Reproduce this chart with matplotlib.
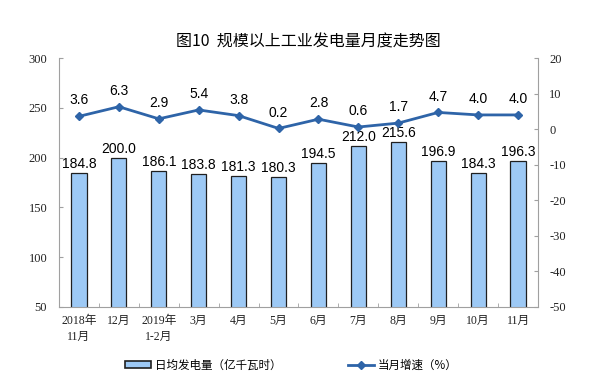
import matplotlib
matplotlib.use("Agg")
import matplotlib.pyplot as plt
from matplotlib.lines import Line2D
from matplotlib.patches import Patch

categories = ["2018年\n11月", "12月", "2019年\n1-2月", "3月", "4月", "5月", "6月", "7月", "8月", "9月", "10月", "11月"]
daily_output = [184.8, 200.0, 186.1, 183.8, 181.3, 180.3, 194.5, 212.0, 215.6, 196.9, 184.3, 196.3]
growth = [3.6, 6.3, 2.9, 5.4, 3.8, 0.2, 2.8, 0.6, 1.7, 4.7, 4.0, 4.0]
left_ticks = [50, 100, 150, 200, 250, 300]
right_ticks = [-50, -40, -30, -20, -10, 0, 10, 20]

cjk = ["Noto Sans CJK SC", "DejaVu Sans"]
serif_cjk = ["Liberation Serif", "Noto Sans CJK SC"]

fig = plt.figure(figsize=(6.04, 3.86), dpi=100)
ax = fig.add_axes([0.0977, 0.2047, 0.793, 0.645])
x = list(range(len(categories)))
bar_color = "#9DC9F5"
edge = "#1F1F1F"
line_color = "#2E64A8"
axis_gray = "#A0A0A0"

ax.bar(x, daily_output, width=0.38, color=bar_color, edgecolor=edge, linewidth=0.9, zorder=2)
ax.set_ylim(50, 300)
ax.set_xlim(-0.5, len(categories) - 0.5)
ax.set_yticks(left_ticks)
ax.set_yticklabels([str(t) for t in left_ticks], fontfamily="Liberation Serif", fontsize=9, color="#222222")
ax.set_xticks(x)
ax.set_xticklabels(categories, fontfamily=serif_cjk, fontsize=8.5, linespacing=1.35, color="#222222")
ax.set_xticks([i + 0.5 for i in range(-1, len(categories))], minor=True)
ax.tick_params(axis="x", which="major", length=0, pad=6)
ax.tick_params(axis="x", which="minor", length=3, color=axis_gray, direction="in")
ax.tick_params(axis="y", length=3, color=axis_gray, direction="in", pad=8.5)
for s in ["top", "right"]:
    ax.spines[s].set_visible(False)
ax.spines["left"].set_color(axis_gray)
ax.spines["bottom"].set_color(axis_gray)

for xi, v in zip(x, daily_output):
    ax.text(xi, v + 2, f"{v:.1f}", ha="center", va="bottom", fontsize=10, fontfamily="Liberation Sans", zorder=4)

ax2 = ax.twinx()
ax2.plot(x, growth, color=line_color, linewidth=2, marker="D", markersize=4.5, zorder=3)
ax2.set_ylim(-50, 20)
ax2.set_yticks(right_ticks)
ax2.set_yticklabels([str(t) for t in right_ticks], fontfamily="Liberation Serif", fontsize=9, color="#222222")
ax2.tick_params(axis="y", length=3, color=axis_gray, direction="in", pad=8)
for s in ["top", "left", "bottom"]:
    ax2.spines[s].set_visible(False)
ax2.spines["right"].set_color(axis_gray)
for xi, v in zip(x, growth):
    ax2.text(xi, v + 2.5, f"{v:.1f}", ha="center", va="bottom", fontsize=10, fontfamily="Liberation Sans")

fig.text(0.51, 0.892, "图10  规模以上工业发电量月度走势图", ha="center", va="center",
         fontsize=11.5, fontfamily=cjk, fontweight="medium")

handles = [Patch(facecolor=bar_color, edgecolor=edge, linewidth=1.2),
           Line2D([0], [0], color=line_color, linewidth=2, marker="D", markersize=4)]
labels = ["日均发电量（亿千瓦时）", "当月增速（%）"]
fig.legend(handles, labels, loc="center", bbox_to_anchor=(0.482, 0.054), ncol=2, frameon=False,
           prop={"family": cjk, "size": 8.3}, columnspacing=5.8, handlelength=2.3, handletextpad=0.3,
           handleheight=0.6)

fig.savefig("out.png", dpi=100)
